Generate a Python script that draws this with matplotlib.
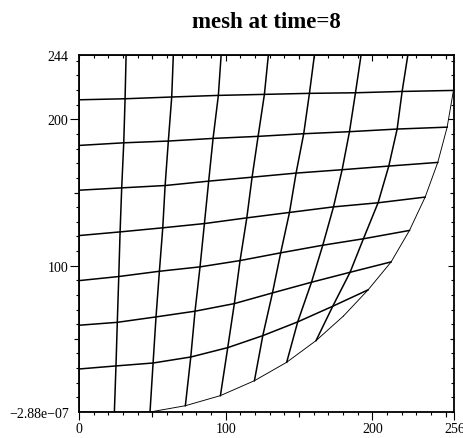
import numpy as np
import matplotlib
matplotlib.use("Agg")
import matplotlib.pyplot as plt
from matplotlib.ticker import MultipleLocator

plt.rcParams['font.family'] = ['Liberation Serif', 'DejaVu Serif']

# mesh nodes, rows j=0 (bottom) .. 8 (top), columns i=0 .. 8
mesh_x = [
    [0, 24.1, 48.4, 72.5, 96.4, 119.6, 141.6, 161.6, 180.3],
    [0, 25.2, 50.5, 76.2, 101.4, 125.3, 149.1, 173.0, 197.1],
    [0, 26.1, 52.5, 79.1, 105.9, 131.9, 158.5, 184.8, 212.8],
    [0, 27.1, 54.8, 82.5, 109.8, 137.5, 166.2, 193.9, 225.3],
    [0, 28.0, 57.1, 85.5, 114.4, 143.5, 173.5, 203.9, 236.0],
    [0, 29.1, 58.7, 88.4, 118.0, 148.0, 179.4, 211.2, 244.6],
    [0, 30.5, 60.9, 91.4, 122.1, 153.2, 184.4, 216.9, 251.0],
    [0, 31.4, 63.2, 95.0, 126.4, 157.1, 188.5, 220.3, 255.3],
    [0, 32.1, 64.3, 96.9, 129.1, 160.5, 192.3, 224.2, 256.0],
]
mesh_y = [
    [0, 0, 0, 4.3, 11.2, 21.4, 34.0, 48.8, 65.6],
    [29.4, 31.5, 33.5, 37.6, 44.0, 52.2, 61.6, 72.3, 83.5],
    [59.3, 61.3, 65.0, 68.9, 74.1, 81.4, 88.7, 95.5, 102.6],
    [89.8, 92.6, 96.2, 99.2, 103.5, 108.8, 114.0, 118.4, 124.1],
    [120.6, 123.1, 125.9, 128.8, 132.7, 136.4, 140.2, 143.0, 146.9],
    [151.6, 153.2, 154.8, 157.8, 160.5, 163.3, 165.6, 168.1, 170.6],
    [182.2, 184.0, 185.2, 187.0, 188.4, 190.2, 191.6, 193.4, 194.7],
    [213.4, 214.1, 215.3, 216.4, 217.1, 217.8, 218.2, 219.1, 219.8],
    [244, 244, 244, 244, 244, 244, 244, 244, 244],
]

x_ticks = [0, 100, 200, 256]
x_ticklabels = ['0', '100', '200', '256']
y_ticks = [-2.88e-07, 100, 200, 244]
y_ticklabels = ['\u22122.88e\u221207', '100', '200', '244']

X = np.array(mesh_x)
Y = np.array(mesh_y)
nj, ni = X.shape

fig = plt.figure(figsize=(4.64, 4.39), dpi=100)
ax = fig.add_axes([0.1703, 0.0592, 0.8092, 0.8132])

# interior grid lines
for j in range(1, nj):
    ax.plot(X[j], Y[j], color='black', lw=1.1)
for i in range(0, ni - 1):
    ax.plot(X[:, i], Y[:, i], color='black', lw=1.1)
# curved boundary (bottom row and last column) thinner
ax.plot(X[0], Y[0], color='black', lw=0.65)
ax.plot(X[:, -1], Y[:, -1], color='black', lw=0.65)

ax.set_xlim(0, 256)
ax.set_ylim(-2.88e-07, 244)
for s in ax.spines.values():
    s.set_linewidth(1.3)

ax.set_xticks(x_ticks)
ax.set_xticklabels(x_ticklabels)
ax.set_yticks(y_ticks)
ax.set_yticklabels(y_ticklabels)
ax.xaxis.set_minor_locator(MultipleLocator(10))
ax.yaxis.set_minor_locator(MultipleLocator(10))
ax.tick_params(axis='x', which='major', direction='out', length=5.5, width=0.8,
               pad=2, labelsize=10)
ax.tick_params(axis='y', which='major', direction='out', length=6.5, width=0.8,
               pad=1, labelsize=10)
ax.tick_params(which='minor', direction='out', length=2.2, width=0.8)
for k in (0, 3):
    ax.yaxis.get_major_ticks()[k].tick1line.set_visible(False)


def tick_row(loc, ticks, length, direction, minor=False):
    if loc in ('top', 'bottom'):
        sec = ax.secondary_xaxis(loc)
        axis = sec.xaxis
    else:
        sec = ax.secondary_yaxis(loc)
        axis = sec.yaxis
    axis.set_ticks(ticks)
    axis.set_ticklabels([])
    if minor:
        axis.set_minor_locator(MultipleLocator(10))
        sec.tick_params(which='minor', direction=direction, length=2.2, width=0.8)
    sec.tick_params(which='major', direction=direction, length=length, width=0.8)
    for s in sec.spines.values():
        s.set_visible(False)
    return sec


tick_row('bottom', [50, 150, 250], 3.6, 'out')
tick_row('left', [50, 150], 3.6, 'out')
tick_row('top', [100, 200], 4.0, 'in', minor=True)
tick_row('top', [50, 150, 250], 3.2, 'in')
tick_row('right', [100, 200], 4.0, 'in', minor=True)
tick_row('right', [50, 150], 3.2, 'in')

fig.text(0.5733, 1 - 28 / 439, 'mesh at time=8', ha='center', va='baseline',
         fontsize=16.5, fontweight='bold')

fig.savefig('out.png', dpi=100)
